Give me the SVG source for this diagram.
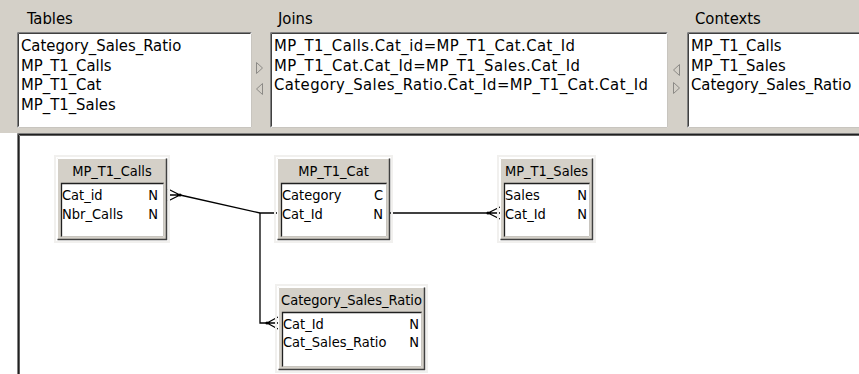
<svg xmlns="http://www.w3.org/2000/svg" width="859" height="374" viewBox="0 0 859 374">
<style>
  .t { font-family: "DejaVu Sans Condensed", "DejaVu Sans", sans-serif; fill: #000; }
  .lst { font-size: 16.5px; }
  .dg { font-size: 14.5px; }
  .hdr { text-anchor: middle; }
  .typ { text-anchor: end; }
  .box { fill: #fff; }
  .dk { fill: none; stroke: #404040; stroke-width: 1; }
  .md { fill: none; stroke: #808080; stroke-width: 1; }
  .lt { fill: none; stroke: #ffffff; stroke-width: 1; }
  .lg { fill: none; stroke: #c8c5bf; stroke-width: 1; }
  .ehead { fill: #d4d0c8; }
  .tri { fill: none; stroke: #8c8a86; stroke-width: 1; }
  .conn { fill: none; stroke: #000; stroke-width: 1.3; }
  .halo { fill: none; stroke: #f1f0ee; stroke-width: 2; }
</style>

<!-- window background -->
<rect x="0" y="0" width="859" height="374" fill="#d4d0c8"/>
<rect x="0" y="133" width="17" height="241" fill="#ffffff"/>

<!-- top panels -->
<g id="tables-panel">
  <text class="t lst" x="27" y="24">Tables</text>
  <rect class="box" x="17" y="32" width="235" height="96"/>
  <path class="md" d="M17.5,127.5 V32.5 H251.5"/>
  <path class="dk" d="M18.5,126.5 V33.5 H250.5"/>
  <path class="lg" d="M18.5,127.5 H251.5 V33.5"/>
  <text class="t lst" x="21" y="51">Category_Sales_Ratio</text>
  <text class="t lst" x="21" y="70.5">MP_T1_Calls</text>
  <text class="t lst" x="21" y="90">MP_T1_Cat</text>
  <text class="t lst" x="21" y="109.5">MP_T1_Sales</text>
</g>
<g id="tables-joins-arrows">
  <polygon class="tri" points="256.5,62.5 262.5,68 256.5,73.5"/>
  <polygon class="tri" points="262.5,83.5 256.5,89 262.5,94.5"/>
</g>
<g id="joins-panel">
  <text class="t lst" x="278" y="24">Joins</text>
  <rect class="box" x="270" y="32" width="398" height="96"/>
  <path class="md" d="M270.5,127.5 V32.5 H667.5"/>
  <path class="dk" d="M271.5,126.5 V33.5 H666.5"/>
  <path class="lg" d="M271.5,127.5 H667.5 V33.5"/>
  <text class="t lst" x="274" y="51" textLength="301" lengthAdjust="spacing">MP_T1_Calls.Cat_id=MP_T1_Cat.Cat_Id</text>
  <text class="t lst" x="274" y="70.5" textLength="306" lengthAdjust="spacing">MP_T1_Cat.Cat_Id=MP_T1_Sales.Cat_Id</text>
  <text class="t lst" x="274" y="90" textLength="374" lengthAdjust="spacing">Category_Sales_Ratio.Cat_Id=MP_T1_Cat.Cat_Id</text>
</g>
<g id="joins-contexts-arrows">
  <polygon class="tri" points="679.5,64.5 673.5,70 679.5,75.5"/>
  <polygon class="tri" points="673.5,82.5 679.5,88 673.5,93.5"/>
</g>
<g id="contexts-panel">
  <text class="t lst" x="695" y="24">Contexts</text>
  <rect class="box" x="687" y="32" width="180" height="96"/>
  <path class="md" d="M687.5,127.5 V32.5 H859"/>
  <path class="dk" d="M688.5,126.5 V33.5 H859"/>
  <path class="lg" d="M688.5,127.5 H859"/>
  <text class="t lst" x="691" y="51">MP_T1_Calls</text>
  <text class="t lst" x="691" y="70.5">MP_T1_Sales</text>
  <text class="t lst" x="691" y="90">Category_Sales_Ratio</text>
</g>

<!-- diagram panel -->
<g id="diagram-panel">
  <rect class="box" x="17" y="133" width="842" height="241"/>
  <path class="md" d="M17.5,374 V133.5 H859"/>
  <path d="M18.5,374 V134.5 H859" fill="none" stroke="#202020" stroke-width="1"/>
  <path d="M19.5,374 V135.5 H859" fill="none" stroke="#606060" stroke-width="1"/>
</g>

<!-- connectors -->
<g id="connectors">
  <path class="conn" d="M180,195 L260,213 H277"/>
  <path class="conn" d="M260,213 V323 H267"/>
  <path class="conn" d="M390,213 H488"/>
  <!-- crow's feet -->
  <path class="conn" d="M180,195 L168,189 M180,195 H168 M180,195 L168,201"/>
  <circle cx="180" cy="195" r="1.6" fill="#000"/>
  <path class="conn" d="M488,213 L500,207 M488,213 H500 M488,213 L500,219"/>
  <circle cx="488" cy="213" r="1.6" fill="#000"/>
  <path class="conn" d="M267,323 L278,317 M267,323 H278 M267,323 L278,329"/>
  <circle cx="267" cy="323" r="1.6" fill="#000"/>
</g>

<!-- entities -->
<g id="MP_T1_Calls">
  <rect class="halo" x="55" y="156" width="114" height="86"/>
  <rect class="ehead" x="57" y="158" width="110" height="82"/>
  <path class="lt" d="M57.5,239.5 V158.5 H166.5"/>
  <path d="M57.5,239.5 H166.5 V158.5" fill="none" stroke="#404040" stroke-width="1.5"/>
  <rect class="box" x="61" y="183" width="103" height="54"/>
  <path d="M61.5,237 V183.5 H164" fill="none" stroke="#202020" stroke-width="1.3"/>
  <path class="lg" d="M61.5,236.5 H163.5 V183.5"/>
  <text class="t dg hdr" x="112" y="176">MP_T1_Calls</text>
  <text class="t dg" x="62" y="200">Cat_id</text>
  <text class="t dg typ" x="158" y="200">N</text>
  <text class="t dg" x="62" y="218.5">Nbr_Calls</text>
  <text class="t dg typ" x="158" y="218.5">N</text>
</g>

<g id="MP_T1_Cat">
  <rect class="halo" x="275" y="156" width="117" height="86"/>
  <rect class="ehead" x="277" y="158" width="113" height="82"/>
  <path class="lt" d="M277.5,239.5 V158.5 H389.5"/>
  <path d="M277.5,239.5 H389.5 V158.5" fill="none" stroke="#404040" stroke-width="1.5"/>
  <rect class="box" x="281" y="183" width="106" height="54"/>
  <path d="M281.5,237 V183.5 H387" fill="none" stroke="#202020" stroke-width="1.3"/>
  <path class="lg" d="M281.5,236.5 H386.5 V183.5"/>
  <text class="t dg hdr" x="333.5" y="176">MP_T1_Cat</text>
  <text class="t dg" x="282" y="200">Category</text>
  <text class="t dg typ" x="383" y="200">C</text>
  <text class="t dg" x="282" y="218.5">Cat_Id</text>
  <text class="t dg typ" x="383" y="218.5">N</text>
</g>

<g id="MP_T1_Sales">
  <rect class="halo" x="498" y="156" width="97" height="86"/>
  <rect class="ehead" x="500" y="158" width="93" height="82"/>
  <path class="lt" d="M500.5,239.5 V158.5 H592.5"/>
  <path d="M500.5,239.5 H592.5 V158.5" fill="none" stroke="#404040" stroke-width="1.5"/>
  <rect class="box" x="504" y="183" width="86" height="54"/>
  <path d="M504.5,237 V183.5 H590" fill="none" stroke="#202020" stroke-width="1.3"/>
  <path class="lg" d="M504.5,236.5 H589.5 V183.5"/>
  <text class="t dg hdr" x="546.5" y="176">MP_T1_Sales</text>
  <text class="t dg" x="505" y="200">Sales</text>
  <text class="t dg typ" x="587" y="200">N</text>
  <text class="t dg" x="505" y="218.5">Cat_Id</text>
  <text class="t dg typ" x="587" y="218.5">N</text>
</g>

<g id="Category_Sales_Ratio">
  <rect class="halo" x="276" y="285" width="151" height="87"/>
  <rect class="ehead" x="278" y="287" width="147" height="83"/>
  <path class="lt" d="M278.5,369.5 V287.5 H424.5"/>
  <path d="M278.5,369.5 H424.5 V287.5" fill="none" stroke="#404040" stroke-width="1.5"/>
  <rect class="box" x="282" y="312" width="140" height="55"/>
  <path d="M282.5,367 V312.5 H422" fill="none" stroke="#202020" stroke-width="1.3"/>
  <path class="lg" d="M282.5,366.5 H421.5 V312.5"/>
  <text class="t dg hdr" x="351.5" y="305">Category_Sales_Ratio</text>
  <text class="t dg" x="283" y="328.5">Cat_Id</text>
  <text class="t dg typ" x="419" y="328.5">N</text>
  <text class="t dg" x="283" y="347">Cat_Sales_Ratio</text>
  <text class="t dg typ" x="419" y="347">N</text>
</g>
</svg>
